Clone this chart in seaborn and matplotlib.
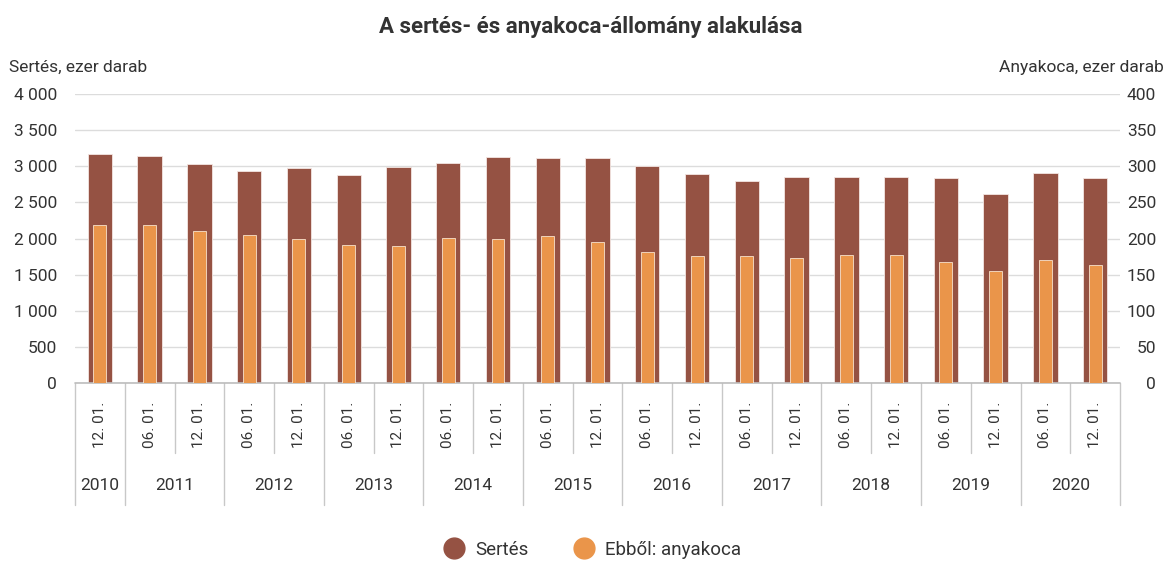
import matplotlib
matplotlib.use("Agg")
import matplotlib.pyplot as plt
import seaborn as sns
import pandas as pd
from matplotlib.lines import Line2D
from matplotlib.ticker import FuncFormatter

# ---- data ----
years = ["2010", "2011", "2011", "2012", "2012", "2013", "2013", "2014", "2014",
         "2015", "2015", "2016", "2016", "2017", "2017", "2018", "2018",
         "2019", "2019", "2020", "2020"]
dates = ["12. 01."] + ["06. 01.", "12. 01."] * 10
sertes = [3165, 3147, 3032, 2940, 2980, 2880, 2995, 3050, 3133, 3110, 3110,
          3005, 2892, 2793, 2851, 2851, 2851, 2833, 2622, 2905, 2833]
anyakoca = [218.8, 218.8, 211, 205, 199, 191, 189.5, 201, 199, 203, 195.4,
            181.7, 176, 176, 172.5, 177.5, 177.5, 168, 154.6, 170, 164]

title = "A sertés- és anyakoca-állomány alakulása"
left_label = "Sertés, ezer darab"
right_label = "Anyakoca, ezer darab"
legend_labels = ["Sertés", "Ebből: anyakoca"]

C_SERTES = "#955243"
C_KOCA = "#EA954A"
TXT = "#333333"
FS = 12.5

sns.set_theme(style="white")
plt.rcParams["font.family"] = ["Roboto", "DejaVu Sans"]

df = pd.DataFrame({
    "key": [f"{y}-{d}" for y, d in zip(years, dates)],
    "year": years, "date": dates,
    "sertes": sertes, "anyakoca": anyakoca,
})

fig = plt.figure(figsize=(11.65, 5.61), dpi=100)
ax = fig.add_axes([0.0644, 0.317, 0.897, 0.5155])
ax2 = ax.twinx()

sns.barplot(data=df, x="key", y="sertes", ax=ax, color=C_SERTES, width=0.49,
            saturation=1, edgecolor="#f3e6e2", linewidth=0.6, zorder=2)
sns.barplot(data=df, x="key", y="anyakoca", ax=ax2, color=C_KOCA, width=0.26,
            saturation=1, edgecolor="#f8e2cc", linewidth=0.6, zorder=3)

n = len(df)
for a in (ax, ax2):
    a.set_xlim(-0.5, n - 0.5)
    a.set_xlabel("")
    a.set_ylabel("")
    a.set_xticks([])
    for s in a.spines.values():
        s.set_visible(False)

ax.set_ylim(0, 4000)
ax2.set_ylim(0, 400)
ax.set_yticks(range(0, 4001, 500))
ax2.set_yticks(range(0, 401, 50))
ax.yaxis.set_major_formatter(FuncFormatter(lambda v, p: f"{int(v):,}".replace(",", " ")))
ax.grid(axis="y", color="#dcdcdc", linewidth=1)
ax.set_axisbelow(True)
ax.tick_params(axis="y", length=0, labelsize=FS, labelcolor=TXT, pad=13)
ax2.tick_params(axis="y", length=0, labelsize=FS, labelcolor=TXT, pad=26)
for t in ax2.get_yticklabels():
    t.set_horizontalalignment("right")

# bottom axis line
ax.axhline(0, color="#bdbdbd", linewidth=1.2, zorder=4, clip_on=False)

# two-level category axis
tr = ax.get_xaxis_transform()
line_kw = dict(color="#c8c8c8", linewidth=1, transform=tr, clip_on=False)
for i in range(n):
    ax.text(i, -0.145, df["date"][i], rotation=90, ha="center", va="center",
            fontsize=11, color=TXT, transform=tr)
for i in range(n + 1):
    new_year = (i == 0 or i == n or df["year"][i] != df["year"][i - 1])
    y_end = -0.42 if new_year else -0.24
    ax.add_line(Line2D([i - 0.5, i - 0.5], [0, y_end], **line_kw))
start = 0
for i in range(1, n + 1):
    if i == n or df["year"][i] != df["year"][start]:
        ax.text((start + i - 1) / 2, -0.355, df["year"][start], ha="center",
                va="center", fontsize=FS, color=TXT, transform=tr)
        start = i

fig.text(0.507, 0.951, title, ha="center", va="center", fontsize=16,
         fontweight="bold", color=TXT)
fig.text(0.008, 0.88, left_label, ha="left", va="center", fontsize=FS, color=TXT)
fig.text(0.999, 0.88, right_label, ha="right", va="center", fontsize=FS, color=TXT)

handles = [Line2D([], [], marker="o", linestyle="", markersize=15,
                  markerfacecolor=c, markeredgecolor=c) for c in (C_SERTES, C_KOCA)]
fig.legend(handles, legend_labels, loc="center", bbox_to_anchor=(0.505, 0.02),
           ncol=2, frameon=False, fontsize=FS + 1, handletextpad=0.1,
           columnspacing=2.0, labelcolor=TXT)

fig.savefig("out.png", dpi=100)
